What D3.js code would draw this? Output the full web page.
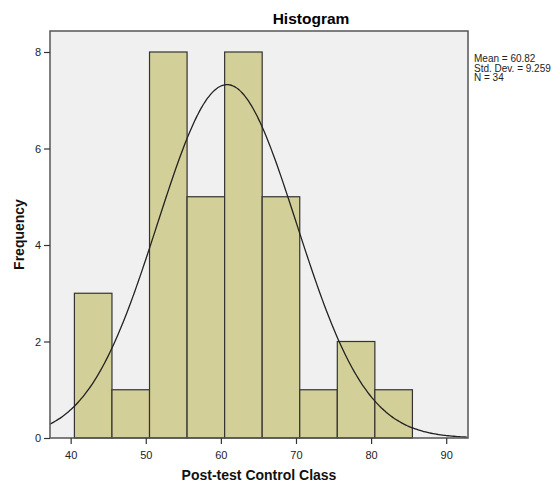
<!DOCTYPE html>
<html><head><meta charset="utf-8">
<script src="https://cdn.jsdelivr.net/npm/d3@7"></script>
<style>body{margin:0;background:#fff;}svg{display:block;font-family:"Liberation Sans",Arial,sans-serif;}</style>
</head><body>
<svg id="c" width="558" height="485"></svg>
<script>
const binStarts = [40.5,45.5,50.5,55.5,60.5,65.5,70.5,75.5,80.5];
const binWidth = 5;
const counts = [3,1,8,5,8,5,1,2,1];
const xTicks = [40,50,60,70,80,90];
const yTicks = [0,2,4,6,8];
const stats = {mean:60.82, sd:9.259, n:34};
const statLabels = ["Mean = 60.82","Std. Dev. = 9.259","N = 34"];

const svg = d3.select("#c");
const L=50,R=468,T=31,B=438;
const x = d3.scaleLinear().domain([37.25,92.9]).range([L,R]);
const y = d3.scaleLinear().domain([0,8]).range([B,52]);

svg.append("rect").attr("x",L).attr("y",T).attr("width",R-L).attr("height",B-T).attr("fill","#f0f0f0");

svg.selectAll(".bar").data(counts).enter().append("rect")
  .attr("x",(d,i)=>x(binStarts[i])).attr("width",(d,i)=>x(binStarts[i]+binWidth)-x(binStarts[i]))
  .attr("y",d=>y(d)).attr("height",d=>B-y(d))
  .attr("fill","#d3cf98").attr("stroke","#333").attr("stroke-width",1.2);

const k = stats.n*binWidth/(stats.sd*Math.sqrt(2*Math.PI));
const xs = d3.range(37.25,92.91,0.25);
const line = d3.line().x(v=>x(v)).y(v=>y(k*Math.exp(-0.5*Math.pow((v-stats.mean)/stats.sd,2)))).curve(d3.curveBasis);
svg.append("path").datum(xs).attr("d",line).attr("fill","none").attr("stroke","#222").attr("stroke-width",1.3);

svg.append("rect").attr("x",L).attr("y",T).attr("width",R-L).attr("height",B-T).attr("fill","none").attr("stroke","#555").attr("stroke-width",1.5);

const xa = svg.append("g").attr("transform",`translate(0,${B})`).call(d3.axisBottom(x).tickValues(xTicks).tickSize(6).tickSizeOuter(0));
const ya = svg.append("g").attr("transform",`translate(${L},0)`).call(d3.axisLeft(y).tickValues(yTicks).tickSize(6).tickSizeOuter(0));
[xa,ya].forEach(a=>{a.select(".domain").remove();a.selectAll("line").attr("stroke","#333").attr("stroke-width",1.2);a.selectAll("text").attr("fill","#222").style("font-size","11px").style("font-family","Liberation Sans, Arial, sans-serif");});
xa.selectAll("text").attr("dy","1.1em");

svg.append("text").attr("x",311).attr("y",24).attr("text-anchor","middle").style("font-size","15.5px").style("font-weight","bold").attr("fill","#000").text("Histogram");
svg.append("text").attr("x",(L+R)/2).attr("y",480).attr("text-anchor","middle").style("font-size","14px").style("font-weight","bold").attr("fill","#111").text("Post-test Control Class");
svg.append("text").attr("transform",`translate(24,${(T+B)/2}) rotate(-90)`).attr("text-anchor","middle").style("font-size","14px").style("font-weight","bold").attr("fill","#111").text("Frequency");
svg.selectAll(".st").data(statLabels).enter().append("text").attr("x",474).attr("y",(d,i)=>62+i*9.5).style("font-size","10px").attr("fill","#222").text(d=>d);
</script>
</body></html>
